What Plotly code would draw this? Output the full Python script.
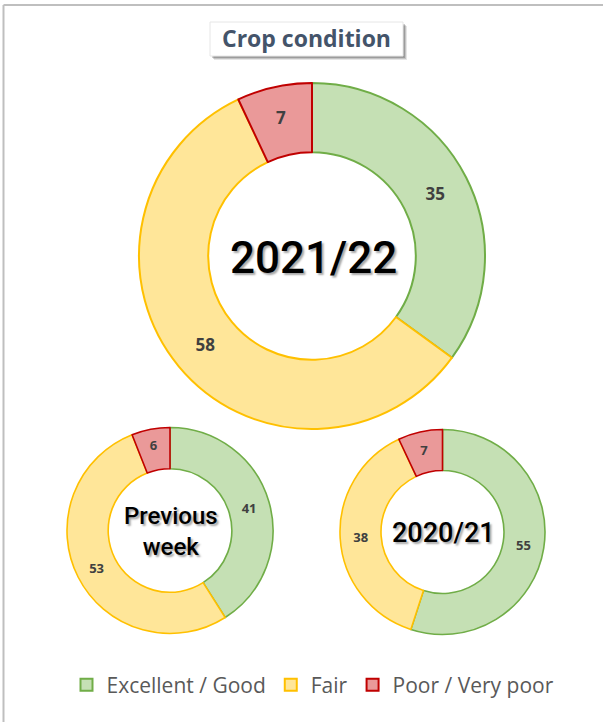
import plotly.graph_objects as go

# ---- data ----
categories = ["Excellent / Good", "Fair", "Poor / Very poor"]
current_season = [35, 58, 7]      # 2021/22
previous_week = [41, 53, 6]
last_season = [55, 38, 7]         # 2020/21
chart_title = "Crop condition"
center_labels = ["2021/22", "Previous<br>week", "2020/21"]

fill_colors = ["#C5E0B4", "#FFE699", "#EA9999"]
line_colors = ["#70AD47", "#FFC000", "#C00000"]

W, H = 603, 722


def dom(cx, cy, r):
    return dict(x=[(cx - r) / W, (cx + r) / W],
                y=[(H - cy - r) / H, (H - cy + r) / H])


def px(x, y):
    return x / W, (H - y) / H


fig = go.Figure()

pies = [
    (current_season, (312, 256, 173), 17, 2, True),
    (previous_week, (170, 530.5, 103), 13, 1.6, False),
    (last_season, (442.5, 532, 102.5), 13, 1.6, False),
]
for vals, (cx, cy, r), fs, lw, show in pies:
    fig.add_trace(go.Pie(
        labels=categories, values=vals, hole=0.6, sort=False,
        direction="clockwise", rotation=0,
        marker=dict(colors=fill_colors, line=dict(color=line_colors, width=lw)),
        textinfo="value", textposition="inside",
        insidetextorientation="horizontal",
        textfont=dict(family="Open Sans", size=fs, color="#404040", weight="bold"),
        domain=dom(cx, cy, r), showlegend=show, hoverinfo="skip",
    ))

shapes = []
# outer frame (top & left visible)
shapes.append(dict(type="line", xref="paper", yref="paper",
                   x0=3.5 / W, x1=1, y0=(H - 5) / H, y1=(H - 5) / H,
                   line=dict(color="#BFBFBF", width=2)))
shapes.append(dict(type="line", xref="paper", yref="paper",
                   x0=3.5 / W, x1=3.5 / W, y0=0, y1=(H - 5) / H,
                   line=dict(color="#BFBFBF", width=2)))
# title box shadow + box
for off, col in [(4, "rgba(0,0,0,0.10)"), (3, "rgba(0,0,0,0.15)"), (2, "rgba(0,0,0,0.2)")]:
    x0, y0 = px(210 + off, 22 + off)
    x1, y1 = px(403 + off, 56 + off)
    shapes.append(dict(type="rect", xref="paper", yref="paper",
                       x0=x0, x1=x1, y0=y1, y1=y0, line=dict(width=0), fillcolor=col))
x0, y0 = px(210, 22)
x1, y1 = px(403, 56)
shapes.append(dict(type="rect", xref="paper", yref="paper",
                   x0=x0, x1=x1, y0=y1, y1=y0,
                   line=dict(color="#E6E6E6", width=1), fillcolor="white"))

annotations = []
tx, ty = px(306, 38)
annotations.append(dict(x=tx, y=ty, xref="paper", yref="paper", text=chart_title,
                        showarrow=False, xanchor="center", yanchor="middle",
                        font=dict(family="Open Sans", size=23, color="#44546A", weight="bold")))
centers = [((313, 258), 44), ((171, 531), 24), ((443, 533), 27)]
for (c, fs), lab in zip(centers, center_labels):
    ax, ay = px(*c)
    annotations.append(dict(x=ax, y=ay, xref="paper", yref="paper", text=lab,
                            showarrow=False, xanchor="center", yanchor="middle",
                            font=dict(family="Roboto", size=fs, color="#000000", weight=500,
                                      shadow="2px 2px 2px rgba(0,0,0,0.35)")))

lx, ly = px(313, 685)
fig.update_layout(
    width=W, height=H,
    margin=dict(l=0, r=0, t=0, b=0),
    paper_bgcolor="white", plot_bgcolor="white",
    shapes=shapes, annotations=annotations,
    legend=dict(orientation="h", x=lx, y=ly, xanchor="center", yanchor="middle",
                font=dict(family="Open Sans", size=21, color="#595959"),
                itemwidth=30, tracegroupgap=0),
)

fig.write_html("out.html", config={"displayModeBar": False},
               post_script="document.body.style.margin='0';document.body.style.padding='0';")
